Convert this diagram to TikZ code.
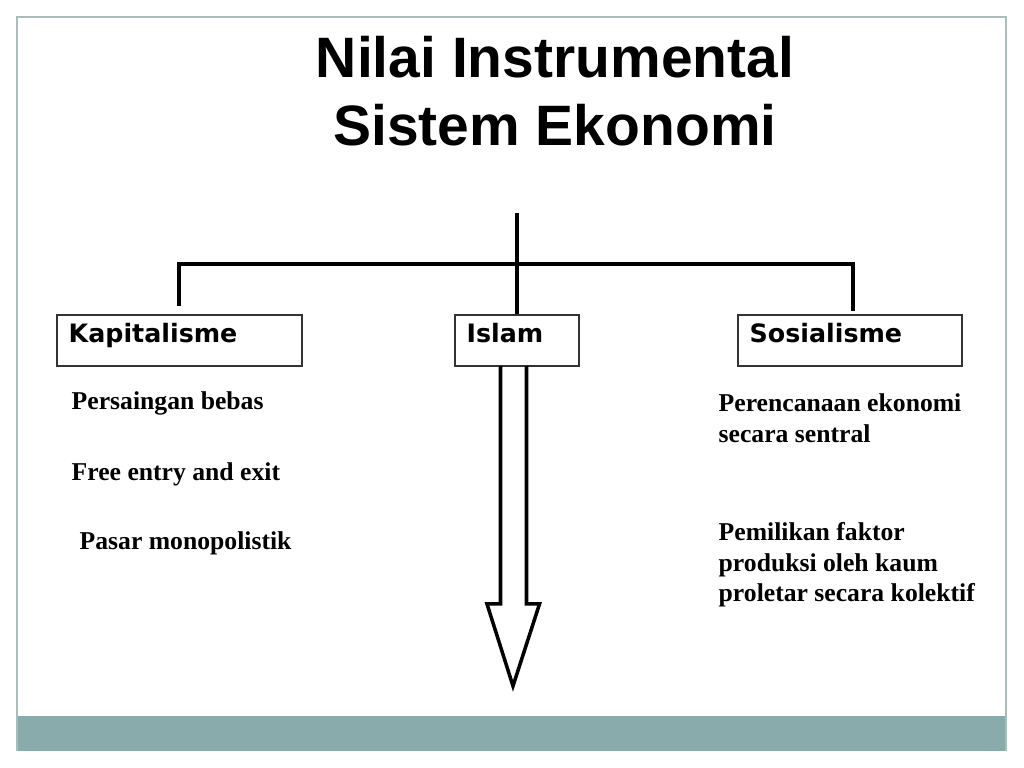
\documentclass[tikz,border=0pt]{standalone}
\usepackage{fontspec}
\setmainfont{Liberation Serif}
\newfontfamily\arial{Liberation Sans}
\newfontfamily\hitam{DejaVu Sans Bold}
\definecolor{pita}{HTML}{8AABAB}
\definecolor{bingkai}{HTML}{A9BDBD}
\tikzset{
	kotak/.style={draw=black!80, line width=0.4pt, minimum height=0.51cm, inner sep=0pt},
	judul/.style={font=\arial\bfseries\fontsize{16.2}{20}\selectfont, inner sep=0pt},
	nama/.style={font=\hitam\fontsize{7.2}{8}\selectfont, inner sep=0pt, anchor=base west},
	isi/.style={font=\bfseries\fontsize{7.3}{8.7}\selectfont, inner sep=0pt, anchor=west, align=left},
	pohon/.style={line width=1.1pt},
}
\begin{document}
\begin{tikzpicture}[x=0.01cm,y=-0.01cm]
	\useasboundingbox (0,0) rectangle (1024,768);
	\path
	coordinate (puncak) at (517,213)
	coordinate (cab1) at (179,264)
	coordinate (cab2) at (853,264)
	;
	\fill[pita] (17,716) rectangle (1006,751);
	\draw[bingkai, line width=0.5pt] (17,751) -- (17,17) -- (1006,17) -- (1006,751);
	\node[judul] (judul1) at (555,57) {Nilai Instrumental};
	\node[judul] (judul2) at (555,125) {Sistem Ekonomi};
	\node[kotak, minimum width=2.45cm] (kap) at (179.5,340.5) {};
	\node[kotak, minimum width=1.24cm] (isl) at (517,340.5) {};
	\node[kotak, minimum width=2.24cm] (sos) at (850,340.5) {};
	\node[nama] (kapn) at (68,343) {Kapitalisme};
	\node[nama] (isln) at (466,343) {Islam};
	\node[nama] (sosn) at (749,343) {Sosialisme};
	\draw[pohon] (puncak) -- (isl.north);
	\draw[pohon, line cap=rect] (cab1) -- (cab2);
	\draw[pohon, shorten >=2.3pt] (cab1) -- (kap.north -| cab1);
	\draw[pohon, shorten >=0.8pt] (cab2) -- (sos.north -| cab2);
	\draw[line width=1pt, line join=miter]
	(500.5,366) --
	(500.5,604) --
	(487,604) --
	(513,686) --
	(539.5,604) --
	(526.5,604) --
	(526.5,366);
	\node[isi] (k1) at (71,403) {Persaingan bebas};
	\node[isi] (k2) at (71,474) {Free entry and exit};
	\node[isi] (k3) at (79,543) {Pasar monopolistik};
	\node[isi] (s1) at (718,418) {Perencanaan ekonomi\\secara sentral};
	\node[isi] (s2) at (718,565) {Pemilikan faktor\\produksi oleh kaum\\proletar secara kolektif};
\end{tikzpicture}
\end{document}
